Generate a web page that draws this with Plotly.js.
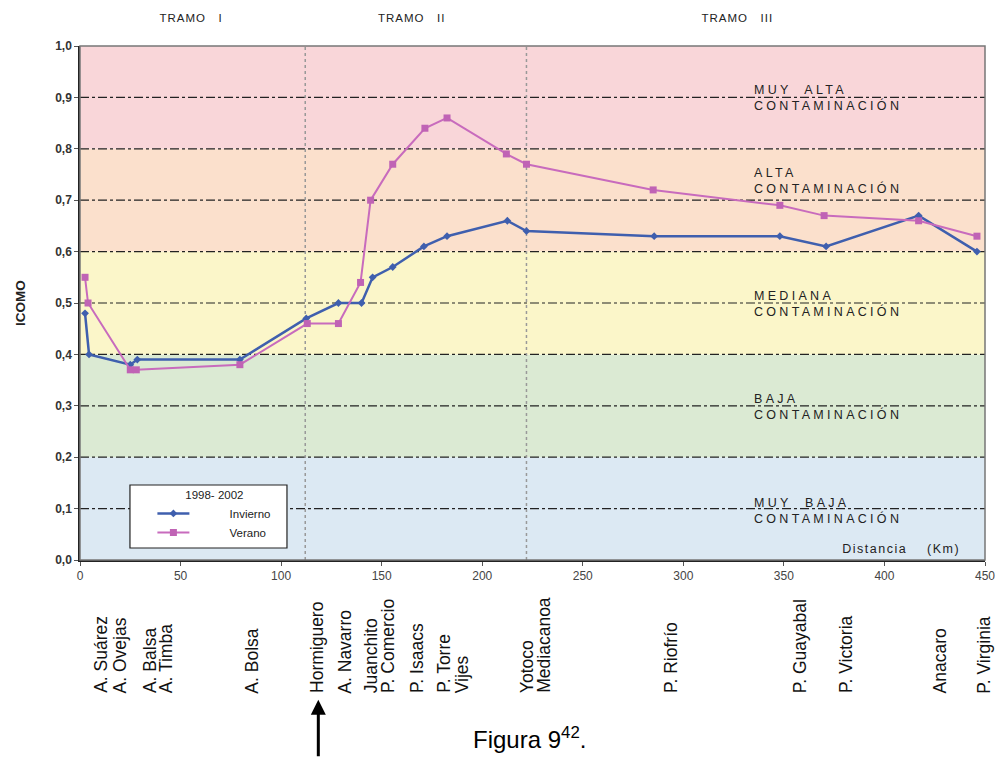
<!DOCTYPE html>
<html><head><meta charset="utf-8">
<script src="https://cdn.plot.ly/plotly-3.0.1.min.js"></script>
<style>body{margin:0;background:#fff}#c{width:999px;height:761px}</style>
</head><body><div id="c"></div>
<script>
// Data
const invX = [2.5, 4.5, 25, 28.5, 79.5, 112.5, 128.5, 140, 145.5, 155.5, 171, 182.5, 212.5, 222, 285.5, 348, 371, 417, 446];
const invY = [0.48, 0.40, 0.38, 0.39, 0.39, 0.47, 0.50, 0.50, 0.55, 0.57, 0.61, 0.63, 0.66, 0.64, 0.63, 0.63, 0.61, 0.67, 0.60];
const verX = [2.5, 4, 25, 28, 79.5, 113, 128.5, 139.5, 144.5, 155.5, 171.5, 182.5, 212, 222, 285, 348, 370, 417, 446];
const verY = [0.55, 0.50, 0.37, 0.37, 0.38, 0.46, 0.46, 0.54, 0.70, 0.77, 0.84, 0.86, 0.79, 0.77, 0.72, 0.69, 0.67, 0.66, 0.63];
const seriesNames = ["Invierno", "Verano"];
const legendTitle = "1998- 2002";
const stationNames = ["A. Suárez","A. Ovejas","A. Balsa","A. Timba","A. Bolsa","Hormiguero","A. Navarro","Juanchito","P. Comercio","P. Isaacs","P. Torre","Vijes","Yotoco","Mediacanoa","P. Riofrío","P. Guayabal","P. Victoria","Anacaro","P. Virginia"];
const stationKm = [10.5, 20, 34.5, 42.5, 85.5, 117.5, 132, 144.5, 153, 167.5, 181, 190, 222, 231, 293.5, 358, 380.5, 427.5, 449.5];
const bandLow = [0.0, 0.2, 0.4, 0.6, 0.8];
const bandHigh = [0.2, 0.4, 0.6, 0.8, 1.0];
const bandColors = ["#dce9f3", "#dbead3", "#fbf6c9", "#fbe0cc", "#f9d6d9"];
const bandTop = ["MUY  BAJA", "BAJA", "MEDIANA", "ALTA", "MUY  ALTA"];
const bandLabelY = [0.128, 0.330, 0.531, 0.771, 0.931];
const tramoNames = ["TRAMO   I", "TRAMO   II", "TRAMO   III"];
const tramoKm = [55, 165, 327];
const tramoLimits = [112, 222];
const gridLevels = [0.1,0.2,0.3,0.4,0.5,0.6,0.7,0.8,0.9];

const shapes = [];
bandLow.forEach((lo,i)=>shapes.push({type:'rect',xref:'paper',yref:'y',x0:0,x1:1,y0:lo,y1:bandHigh[i],fillcolor:bandColors[i],line:{width:0},layer:'below'}));
gridLevels.forEach(v=>shapes.push({type:'line',xref:'paper',yref:'y',x0:0,x1:1,y0:v,y1:v,line:{color:'#222',width:1.2,dash:'dashdot'},layer:'below'}));
tramoLimits.forEach(v=>shapes.push({type:'line',xref:'x',yref:'paper',x0:v,x1:v,y0:0,y1:1,line:{color:'#999',width:1.5,dash:'dot'},layer:'below'}));
shapes.push({type:'rect',xref:'paper',yref:'paper',x0:0,x1:1,y0:0,y1:1,line:{color:'#777',width:1.5}});
// legend box
shapes.push({type:'rect',xref:'paper',yref:'paper',x0:0.0552,x1:0.2287,y0:0.0233,y1:0.1459,fillcolor:'#fff',line:{color:'#222',width:1.2},layer:'above'});

const ann = [];
stationNames.forEach((s,i)=>ann.push({x:stationKm[i],xref:'x',y:-0.263,yref:'paper',text:s,showarrow:false,textangle:-90,xanchor:'center',yanchor:'bottom',font:{family:'Liberation Sans, Arial',size:17.5,color:'#111'}}));
bandTop.forEach((t,i)=>ann.push({x:334,xref:'x',y:bandLabelY[i],yref:'y',text:t+'<br>CONTAMINACIÓN',showarrow:false,xanchor:'left',yanchor:'top',align:'left',font:{family:'Liberation Sans, Arial',size:12.5,color:'#222'}}));
tramoNames.forEach((t,i)=>ann.push({x:tramoKm[i],xref:'x',y:1.07,yref:'paper',text:t,showarrow:false,font:{family:'Liberation Sans, Arial',size:11.5,color:'#222'}}));
ann.push({x:432,xref:'x',y:0.022,yref:'y',text:'Distancia    (Km)',showarrow:false,xanchor:'right',yanchor:'middle',font:{family:'Liberation Sans, Arial',size:12.5,color:'#222'}});
ann.push({x:118.5,xref:'x',y:-0.272,yref:'paper',text:'',showarrow:true,arrowhead:2,arrowsize:1,arrowwidth:3,arrowcolor:'#000',ax:0,ay:58});
ann.push({x:0.497,xref:'paper',y:-0.379,yref:'paper',text:'Figura 9<sup>42</sup>.',showarrow:false,font:{family:'Liberation Sans, Arial',size:24,color:'#000'}});

const pad = '&nbsp;'.repeat(11);
const traces = [
 {x:invX,y:invY,name:pad+seriesNames[0],mode:'lines+markers',line:{color:'#3f5fae',width:2.5},marker:{symbol:'diamond',size:6,color:'#3f5fae'}},
 {x:verX,y:verY,name:pad+seriesNames[1],mode:'lines+markers',line:{color:'#c86bbd',width:2},marker:{symbol:'square',size:7,color:'#c063b5'}}
];

const layout = {
 width:999,height:761,
 margin:{l:80,r:14,t:46,b:201},
 paper_bgcolor:'#fff',plot_bgcolor:'rgba(0,0,0,0)',
 separators:',.',
 font:{family:'Liberation Sans, Arial',color:'#333'},
 xaxis:{range:[0,450],tickvals:[0,50,100,150,200,250,300,350,400,450],ticks:'outside',ticklen:4,tickcolor:'#555',showgrid:false,zeroline:false,showline:true,linecolor:'#222',linewidth:1.5,tickfont:{size:12,color:'#444'}},
 yaxis:{range:[0,1],dtick:0.1,tickformat:'.1f',ticks:'outside',ticklen:4,tickcolor:'#555',showgrid:false,zeroline:false,showline:true,linecolor:'#222',linewidth:1.5,tickfont:{size:12,color:'#333',weight:'bold'},title:{text:'<b>ICOMO</b>',font:{size:13.5,color:'#222'},standoff:26}},
 shapes:shapes,annotations:ann,
 showlegend:true,
 legend:{x:0.080,y:0.148,xanchor:'left',yanchor:'top',bgcolor:'rgba(0,0,0,0)',borderwidth:0,font:{size:11.5,color:'#222'},title:{text:legendTitle,side:'top center',font:{size:11.5,color:'#222'}},itemwidth:32,tracegroupgap:0}
};
Plotly.newPlot('c',traces,layout,{displayModeBar:false}).then(()=>{
  document.querySelectorAll('.annotation-text').forEach(el=>{
    const t = el.textContent;
    if (t.indexOf('CONTAMINACI')>=0) el.style.letterSpacing='3.3px';
    else if (t.indexOf('TRAMO')>=0) el.style.letterSpacing='1px';
    else if (t.indexOf('Distancia')>=0) el.style.letterSpacing='1.5px';
  });
});
</script></body></html>
